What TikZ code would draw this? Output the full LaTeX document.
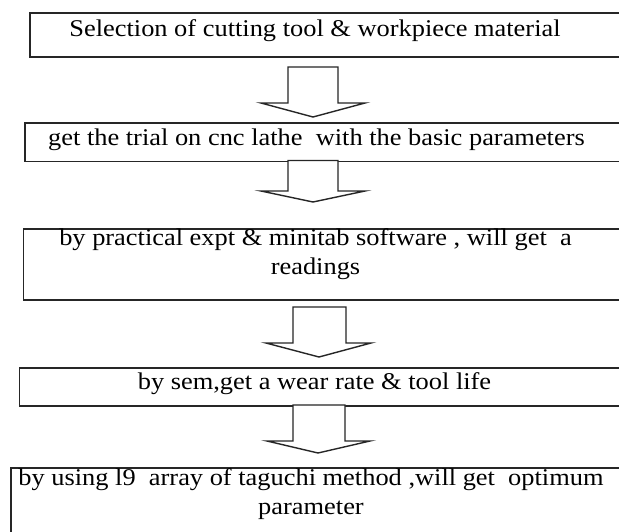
\documentclass[tikz,border=0pt]{standalone}
\usepackage{fontspec}
\setmainfont[FakeStretch=1.1]{Liberation Serif}
\begin{document}
\begin{tikzpicture}[x=1pt,y=-1pt,
  boxline/.style={draw=black!85,line width=1.7pt},
  txt/.style={inner sep=0pt,align=center,font=\fontsize{24}{28.5}\selectfont,text=black},
  blockarrow/.style={draw=black!85,line width=1.4pt,fill=white,line join=miter}]
\clip (0,0) rectangle (619,531);
\fill[white] (0,0) rectangle (619,531);
% boxes
\node[boxline,inner sep=0pt,anchor=north west,minimum width=620pt,minimum height=44pt] (b1) at (28.8,12) {};
\node[boxline,inner sep=0pt,anchor=north west,minimum width=620pt,minimum height=38.5pt] (b2) at (24.4,122) {};
\node[boxline,inner sep=0pt,anchor=north west,minimum width=620pt,minimum height=71pt] (b3) at (22.7,228) {};
\node[boxline,inner sep=0pt,anchor=north west,minimum width=620pt,minimum height=38pt] (b4) at (18.6,367) {};
\node[boxline,inner sep=0pt,anchor=north west,minimum width=630pt,minimum height=80pt] (b5) at (10.2,467) {};
% texts
\node[txt] (t1) at (315,31) {Selection of cutting tool \& workpiece material};
\node[txt] (t2) at (316.5,140) {get the trial on cnc lathe\ \ with the basic parameters};
\node[txt] (t3) at (315.5,254) {by practical expt \& minitab software , will get\ \ a\\readings};
\node[txt] (t4) at (314.5,384) {by sem,get a wear rate \& tool life};
\node[txt] (t5) at (311,494) {by using l9\ \ array of taguchi method ,will get\ \ optimum\\parameter};
% block arrows
\draw[blockarrow] (288,67) -- (338,67) -- (338,103) -- (365,103) -- (313,117) -- (261,103) -- (288,103) -- cycle;
\draw[blockarrow] (288,160.5) -- (338,160.5) -- (338,191) -- (365,191) -- (313,202) -- (261,191) -- (288,191) -- cycle;
\draw[blockarrow] (293,307) -- (346,307) -- (346,343) -- (371,343) -- (319,357) -- (266,343) -- (293,343) -- cycle;
\draw[blockarrow] (293,405) -- (345,405) -- (345,441) -- (370,441) -- (318,453) -- (267,441) -- (293,441) -- cycle;
\end{tikzpicture}
\end{document}
